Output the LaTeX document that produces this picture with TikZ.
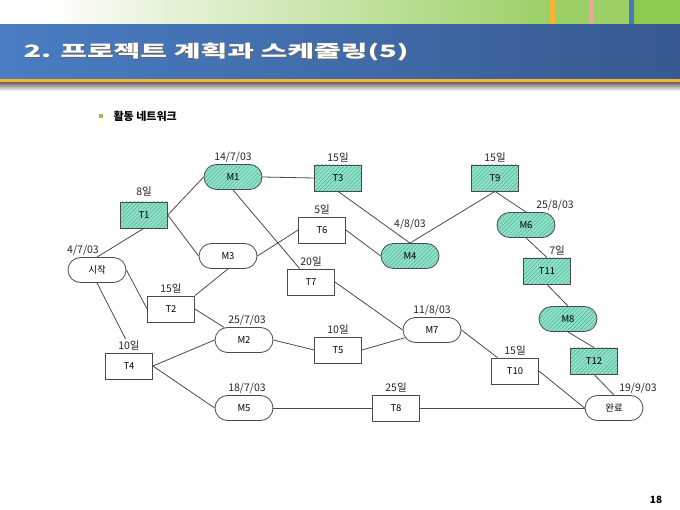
\documentclass[tikz,border=0pt]{standalone}
\usepackage{fontspec}
\setmainfont{Noto Sans CJK KR}
\usepackage{graphicx}
\usetikzlibrary{shapes.misc,patterns.meta}

\definecolor{mint}{HTML}{92E2CA}
\definecolor{hatch}{HTML}{45AE90}
\definecolor{edgegray}{HTML}{4A4A4A}
\definecolor{barblueL}{HTML}{4A7DC2}
\definecolor{barblueR}{HTML}{375A92}
\definecolor{topgreen}{HTML}{9CD066}
\definecolor{endgreen}{HTML}{8DCB4E}
\definecolor{stripeorange}{HTML}{F6B431}
\definecolor{stripepink}{HTML}{F2A0A0}
\definecolor{stripeblue}{HTML}{4A77BD}
\definecolor{bulletgreen}{HTML}{8CC850}

\tikzset{
  task/.style={draw=edgegray, line width=0.8pt, minimum width=47pt, minimum height=26pt,
    inner sep=0pt, font=\fontsize{9.5}{10}\selectfont},
  mile/.style={task, rounded rectangle, minimum width=58pt, minimum height=25pt},
  crit/.style={preaction={fill=mint}, pattern={Lines[angle=45,distance=2.8pt,line width=0.45pt]},
    pattern color=hatch},
  link/.style={draw=edgegray, line width=0.8pt},
  every label/.style={font=\fontsize{10.5}{12}\selectfont, inner sep=2pt, text=black!85}
}

\begin{document}
\begin{tikzpicture}[x=1pt,y=-1pt]
    \useasboundingbox (0,0) rectangle (680,510);
    \fill[white] (0,0) rectangle (680,510);

    % Header band with the coloured stripes
    \shade[left color=white, right color=topgreen] (40,0) rectangle (550,25);
    \fill[topgreen] (550,0) rectangle (634,25);
    \fill[endgreen] (634,0) rectangle (680,25);
    \foreach \x/\w/\col in {549/6/stripeorange, 589/5/stripepink, 629/5/stripeblue} {
      \fill[\col] (\x,0) rectangle ++(\w,25);
    }
    \shade[left color=barblueL, right color=barblueR] (0,25) rectangle (680,79);
    \fill[stripeorange] (0,79) rectangle (680,83);
    \shade[top color=black!55, bottom color=white] (0,83) rectangle (680,91);

    % Title and bullet
    \node[anchor=west, text=black!60, font=\fontsize{17}{20}\selectfont\bfseries] (titleshadow) at (21,53)
      {\resizebox{385pt}{\height}{2. 프로젝트 계획과 스케줄링(5)}};
    \node[anchor=west, text=white, font=\fontsize{17}{20}\selectfont\bfseries] (title) at (20,52)
      {\resizebox{385pt}{\height}{2. 프로젝트 계획과 스케줄링(5)}};
    \fill[bulletgreen] (99,114) rectangle (103,118);
    \node[anchor=west, font=\fontsize{11}{13}\selectfont\bfseries] (subtitle) at (110,116) {활동 네트워크};

    % Tasks and milestones
    \node[mile, label={[xshift=-14pt]above:4/7/03}] (start) at (97,270) {시작};
    \node[task, crit, label={[label distance=3pt]above:8일}] (T1) at (144,215) {T1};
    \node[mile, crit, label={above:14/7/03}] (M1) at (233,177) {M1};
    \node[mile] (M3) at (228,256) {M3};
    \node[task, crit, label={above:15일}] (T3) at (338,178) {T3};
    \node[task, label={above:5일}] (T6) at (322,230) {T6};
    \node[mile, crit, label={[label distance=12pt]above:4/8/03}] (M4) at (410,256) {M4};
    \node[task, label={above:20일}] (T7) at (311,282) {T7};
    \node[task, crit, label={above:15일}] (T9) at (495,178) {T9};
    \node[mile, crit, label={[xshift=29pt]above:25/8/03}] (M6) at (526,225) {M6};
    \node[task, crit, label={[xshift=10pt]above:7일}] (T11) at (547,271) {T11};
    \node[mile, crit] (M8) at (568,319) {M8};
    \node[task, crit] (T12) at (594,361) {T12};
    \node[task, label={above:15일}] (T2) at (171,309) {T2};
    \node[mile, label={[xshift=3pt]above:25/7/03}] (M2) at (244,340) {M2};
    \node[task, label={[name=T4lbl]above:10일}] (T4) at (129,366) {T4};
    \node[mile, label={[xshift=3pt]above:18/7/03}] (M5) at (244,408) {M5};
    \node[mile, label={above:11/8/03}] (M7) at (432,330) {M7};
    \node[task, label={above:10일}] (T5) at (338,350) {T5};
    \node[task, label={above:25일}] (T8) at (396,408) {T8};
    \node[task, label={above:15일}] (T10) at (515,371) {T10};
    \node[mile, label={[xshift=24pt]above:19/9/03}] (finish) at (614,408) {완료};

    % Connectors between the activities
    \foreach \a/\b in {
      start.north/T1.south, start.east/T2.west, start.south/T4lbl,
      T1.east/M1.west, T1.east/M3.west, M1.east/T3.west, M1.south/T7,
      T2.north east/M3.south, M3.east/T6.west,
      T3.south/M4.north, T6.east/M4.west, M4.north/T9.south,
      T9.south/M6.north, M6.south/T11.north, T11.south/M8.north,
      M8.south/T12.north, T12.south/finish.north,
      T2.east/M2, T4.east/M2.west, T4.east/M5.west,
      M2.east/T5.west, T5.east/M7, T7.east/M7.west,
      M7.east/T10, T10.east/finish.west,
      M5.east/T8.west, T8.east/finish.west} {
      \draw[link] (\a) -- (\b);
    }

    % Page number
    \node[font=\fontsize{10}{12}\selectfont\bfseries] (page) at (656,500) {18};
\end{tikzpicture}
\end{document}
